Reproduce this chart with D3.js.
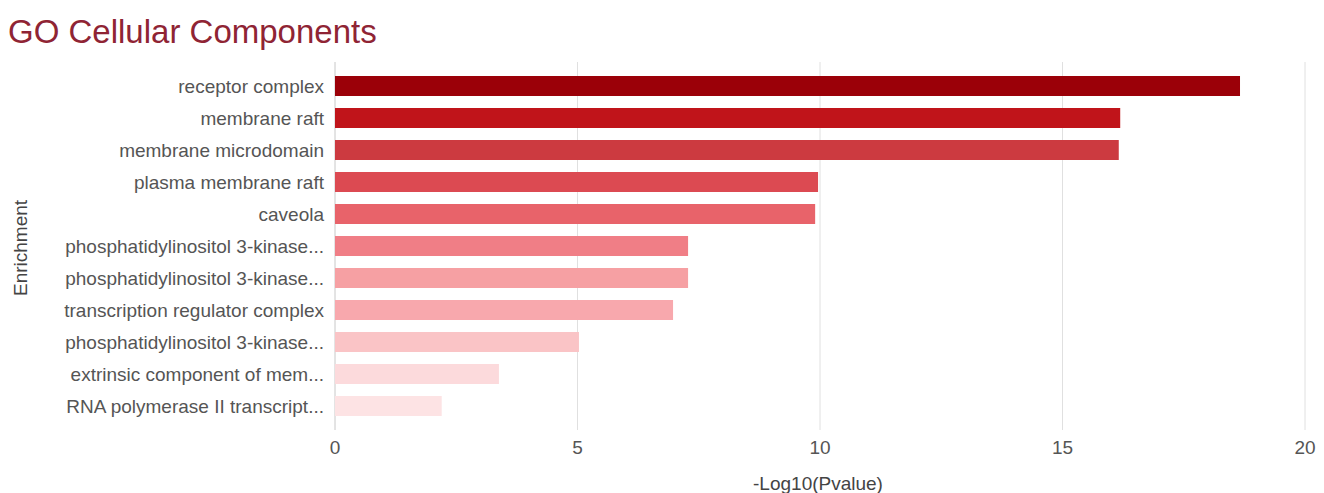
<!DOCTYPE html>
<html><head><meta charset="utf-8">
<script src="https://cdn.jsdelivr.net/npm/d3@7"></script>
<style>body{margin:0;background:#fff;} text{font-family:"Liberation Sans",Arial,sans-serif;}</style>
</head><body>
<svg id="c" width="1324" height="493"></svg>
<script>
const categories = ["receptor complex","membrane raft","membrane microdomain","plasma membrane raft","caveola","phosphatidylinositol 3-kinase...","phosphatidylinositol 3-kinase...","transcription regulator complex","phosphatidylinositol 3-kinase...","extrinsic component of mem...","RNA polymerase II transcript..."];
const values = [18.66, 16.19, 16.16, 9.96, 9.9, 7.28, 7.28, 6.97, 5.03, 3.38, 2.2];
const barColors = ["#9b0008","#c0141a","#cc3a40","#dc4a52","#e8636a","#f07e86","#f6a0a3","#f8a8ad","#fac4c6","#fcdadc","#fde3e4"];
const xTicks = [0, 5, 10, 15, 20];
const title = "GO Cellular Components";
const xTitle = "-Log10(Pvalue)";
const yTitle = "Enrichment";

const svg = d3.select("#c");
const m = {left: 335, right: 1305, top: 70, bottom: 422};
const x = d3.scaleLinear().domain([0, 20]).range([m.left, m.right]);
const ids = categories.map((c, i) => i);
const y = d3.scaleBand().domain(ids).range([m.top, m.bottom]).paddingInner(0.375).paddingOuter(0.1875);

svg.append("text").attr("x", 8).attr("y", 43).attr("font-size", 33).attr("fill", "#8f2434").text(title);

// grid
svg.append("g").selectAll("line").data(xTicks).join("line")
  .attr("x1", d => x(d)).attr("x2", d => x(d))
  .attr("y1", 62).attr("y2", 430)
  .attr("stroke", d => d === 0 ? "#c8c8c8" : "#e0e0e0").attr("stroke-width", 1);

// bars
svg.append("g").selectAll("rect").data(values).join("rect")
  .attr("x", x(0)).attr("y", (d, i) => y(i))
  .attr("width", d => x(d) - x(0)).attr("height", y.bandwidth())
  .attr("fill", (d, i) => barColors[i]);

// y labels
svg.append("g").selectAll("text").data(categories).join("text")
  .attr("x", 324).attr("y", (d, i) => y(i) + y.bandwidth() / 2)
  .attr("dy", "0.35em").attr("text-anchor", "end")
  .attr("font-size", 19).attr("fill", "#555").text(d => d);

// x axis tick labels
svg.append("g").selectAll("text").data(xTicks).join("text")
  .attr("x", d => x(d)).attr("y", 454).attr("text-anchor", "middle")
  .attr("font-size", 19).attr("fill", "#555").text(d => d);

svg.append("text").attr("x", 818).attr("y", 490).attr("text-anchor", "middle")
  .attr("font-size", 19).attr("fill", "#444").text(xTitle);

svg.append("text").attr("transform", "translate(27,248) rotate(-90)").attr("text-anchor", "middle")
  .attr("font-size", 19).attr("fill", "#444").text(yTitle);
</script>
</body></html>
